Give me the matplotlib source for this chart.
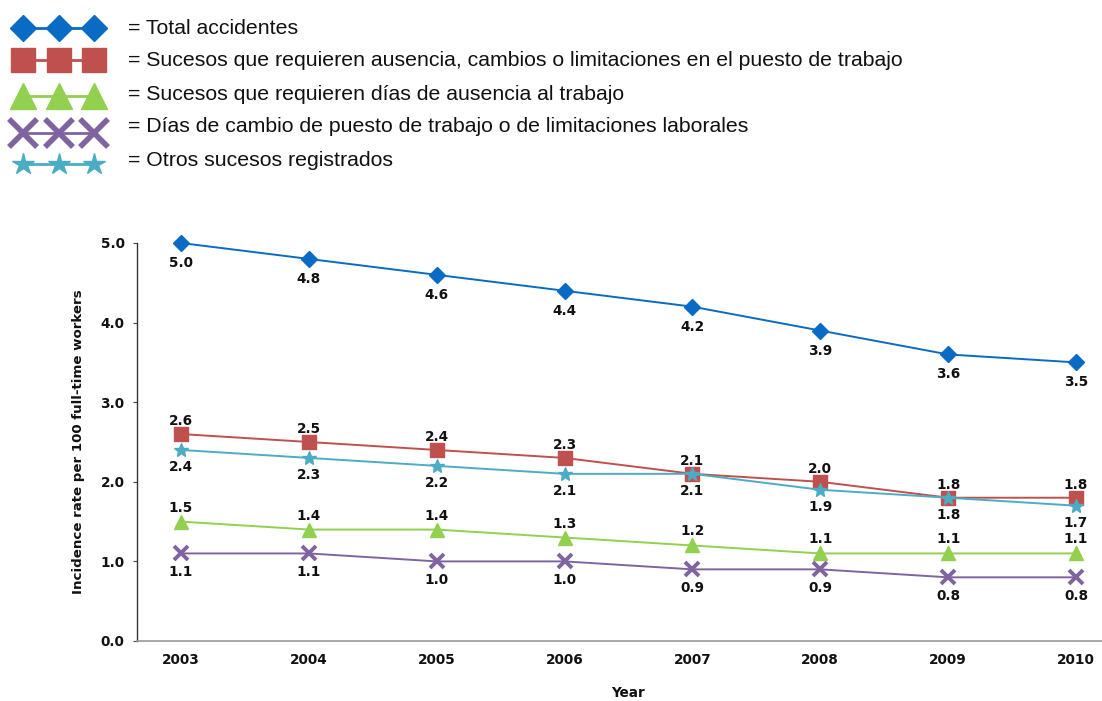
import matplotlib
matplotlib.use("Agg")
import matplotlib.pyplot as plt
import numpy as np

years = [2003, 2004, 2005, 2006, 2007, 2008, 2009, 2010]
total = [5.0, 4.8, 4.6, 4.4, 4.2, 3.9, 3.6, 3.5]
ausencia_cambios = [2.6, 2.5, 2.4, 2.3, 2.1, 2.0, 1.8, 1.8]
dias_ausencia = [1.5, 1.4, 1.4, 1.3, 1.2, 1.1, 1.1, 1.1]
cambio_puesto = [1.1, 1.1, 1.0, 1.0, 0.9, 0.9, 0.8, 0.8]
otros = [2.4, 2.3, 2.2, 2.1, 2.1, 1.9, 1.8, 1.7]

labels = [
    "= Total accidentes",
    "= Sucesos que requieren ausencia, cambios o limitaciones en el puesto de trabajo",
    "= Sucesos que requieren días de ausencia al trabajo",
    "= Días de cambio de puesto de trabajo o de limitaciones laborales",
    "= Otros sucesos registrados",
]

W, H = 1102, 701
fig = plt.figure(figsize=(W / 100, H / 100), dpi=100)
ax = fig.add_axes([137 / W, 1 - 641 / H, (W - 137) / W, (641 - 243) / H])

series = [
    # values, color, marker, ms, mew, label offset (px, +up)
    (total, "#0A6BC4", "D", 8, 1, -20),
    (ausencia_cambios, "#C0504D", "s", 10, 1, 13),
    (dias_ausencia, "#92D050", "^", 10, 1, 14),
    (cambio_puesto, "#8064A2", "x", 10, 2.8, -19),
    (otros, "#4BACC6", "*", 10, 1, -17),
]

for vals, col, mk, ms, mew, off in series:
    ax.plot(years, vals, color=col, lw=1.4, marker=mk, ms=ms,
            markeredgewidth=mew, markeredgecolor=col, markerfacecolor=col,
            clip_on=False, zorder=3)
    for x, v in zip(years, vals):
        ax.annotate(f"{v:.1f}", (x, v), xytext=(0, off * 0.72),
                    textcoords="offset points", ha="center", va="center",
                    fontsize=9.8, fontweight="bold", color="#111111",
                    family="DejaVu Sans")

ax.set_xlim(2003 - 44 / 127.9, 2010 + 26 / 127.9)
ax.set_ylim(0, 5.0)
ax.set_yticks([0, 1, 2, 3, 4, 5])
ax.set_yticklabels([f"{t:.1f}" for t in [0, 1, 2, 3, 4, 5]])
ax.set_xticks(years)
ax.set_xticklabels([str(y) for y in years])
for lab in ax.get_xticklabels() + ax.get_yticklabels():
    lab.set_fontweight("bold")
    lab.set_fontsize(9.8)
    lab.set_color("#111111")
ax.tick_params(axis="x", length=0, pad=9)
ax.tick_params(axis="y", length=3, width=0.8, pad=6, color="#444444")
ax.spines["top"].set_visible(False)
ax.spines["right"].set_visible(False)
ax.spines["left"].set_color("#333333")
ax.spines["left"].set_linewidth(1.0)
ax.spines["bottom"].set_color("#999999")
ax.spines["bottom"].set_linewidth(1.2)
ax.set_ylabel("Incidence rate per 100 full-time workers", fontsize=9.6,
              fontweight="bold", labelpad=11, color="#111111")
fig.text(628 / W, 1 - 693 / H, "Year", ha="center", va="center",
         fontsize=9.8, fontweight="bold", color="#111111")

# legend drawn in pixel coordinates
lax = fig.add_axes([0, 0, 1, 1], facecolor="none")
lax.set_xlim(0, W)
lax.set_ylim(H, 0)
lax.axis("off")
text_rows = [28, 61, 94, 127, 160]
mark_rows = [28, 60, 96, 133, 164]
leg_ms = [13.5, 17.5, 18.5, 20, 16]
leg_mew = [1, 1, 1, 4, 1]
leg_x = [23, 59, 94]
for (vals, col, mk, ms, mew, off), ty, my, lms, lmew, lab in zip(
        series, text_rows, mark_rows, leg_ms, leg_mew, labels):
    lax.plot(leg_x, [my] * 3, color=col, lw=2, marker=mk, ms=lms,
             markeredgewidth=lmew, markeredgecolor=col, markerfacecolor=col)
    lax.text(128, ty, lab, fontsize=15.3, family="Liberation Sans",
             va="center", ha="left", color="#111111")

fig.savefig("out.png", dpi=100)
